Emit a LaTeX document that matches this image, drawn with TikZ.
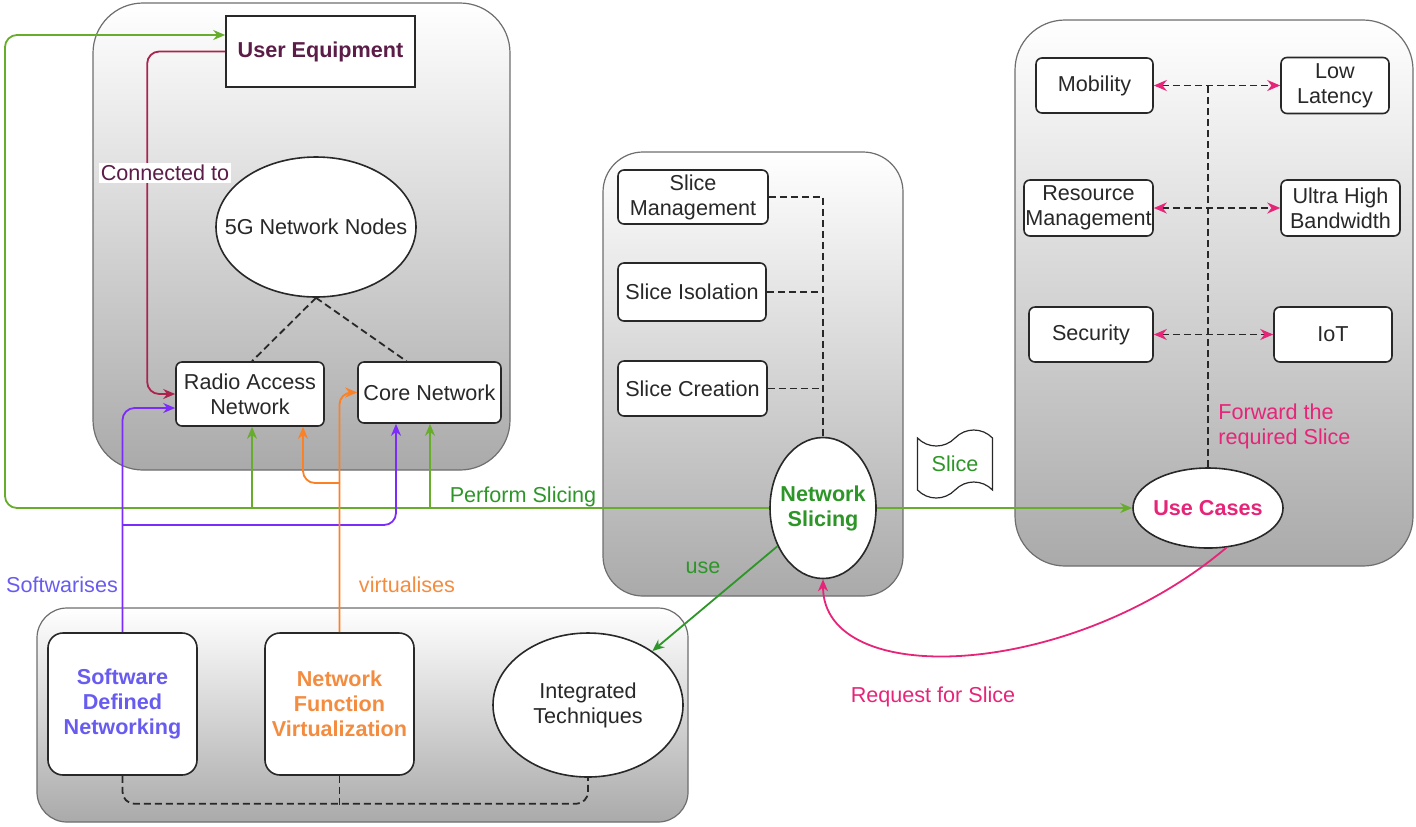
\documentclass[tikz,border=0pt]{standalone}
\usepackage{fontspec}
\setmainfont{Liberation Sans}
\definecolor{uemaroon}{RGB}{92,28,72}
\definecolor{connred}{RGB}{170,36,78}
\definecolor{slicegreen}{RGB}{104,172,44}
\definecolor{labelgreen}{RGB}{46,150,40}
\definecolor{sdnviolet}{RGB}{124,44,250}
\definecolor{sdntext}{RGB}{104,92,240}
\definecolor{nfvorange}{RGB}{252,128,36}
\definecolor{nfvtext}{RGB}{244,140,64}
\definecolor{casepink}{RGB}{230,36,120}
\definecolor{panelgray}{RGB}{170,170,170}
\definecolor{edgegray}{RGB}{110,110,110}
\definecolor{inkgray}{RGB}{40,40,40}
\usetikzlibrary{shapes.geometric, shapes.symbols, arrows.meta, positioning, calc}

\begin{document}
\begin{tikzpicture}[x=0.5pt, y=-0.5pt,
  font=\fontsize{10.8}{12.5}\selectfont,
  panel/.style={draw=edgegray, line width=0.6pt, top color=white, bottom color=panelgray, rounded corners=#1},
  box/.style={draw=inkgray, fill=white, line width=0.8pt, rounded corners=3pt, align=center, inner sep=0pt, text=inkgray},
  oval/.style={draw=inkgray, fill=white, line width=0.8pt, ellipse, inner sep=0pt},
  link/.style={line width=0.9pt, rounded corners=6pt, -{Stealth[length=6pt, width=5pt]}},
  dashlink/.style={draw=inkgray, line width=0.9pt, dash pattern=on 3.5pt off 2pt},
  pinktips/.style={{Stealth[length=6.5pt, width=5.5pt, casepink]}-{Stealth[length=6.5pt, width=5.5pt, casepink]}}
]
  \useasboundingbox (0,0) rectangle (1416,826);

  % panels
  \node[panel=25pt, minimum width=208.5pt, minimum height=233.5pt] (nodepanel) at (301.5,236.5) {};
  \node[panel=20pt, minimum width=150pt, minimum height=222pt] (slicepanel) at (753,374) {};
  \node[panel=25pt, minimum width=199pt, minimum height=273pt] (casepanel) at (1214,293) {};
  \node[panel=15pt, minimum width=325.5pt, minimum height=107pt] (techpanel) at (362.5,715) {};

  % 5G network nodes
  \node[box, rounded corners=0pt, minimum width=94.5pt, minimum height=35.5pt, text=uemaroon, font=\fontsize{10.8}{12.5}\selectfont\bfseries] (ue) at (320.5,51.5) {User Equipment};
  \node[oval, minimum width=100pt, minimum height=70pt] (g5) at (316,227) {};
  \node[text=inkgray] (g5text) at (g5) {5G Network Nodes};
  \node[box, minimum width=74pt, minimum height=32pt] (ran) at (250,394) {Radio Access\\Network};
  \node[box, minimum width=71.5pt, minimum height=30.5pt] (cn) at (429.5,392.5) {Core Network};

  % slicing
  \node[box, minimum width=75pt, minimum height=27pt] (sm) at (693,197) {Slice\\Management};
  \node[box, minimum width=74pt, minimum height=29pt] (si) at (692,292) {Slice Isolation};
  \node[box, minimum width=74.5pt, minimum height=27.5pt] (sc) at (692.5,388.5) {Slice Creation};
  \node[oval, minimum width=53pt, minimum height=70.5pt] (ns) at (823,508) {};
  \node[text=labelgreen, align=center, font=\fontsize{10.8}{12.5}\selectfont\bfseries] (nstext) at (ns) {Network\\Slicing};
  \node[tape, tape bend height=8pt, draw=inkgray, fill=white, line width=0.6pt, minimum width=37.5pt, minimum height=34pt, inner sep=0pt, text=labelgreen] (slicetag) at (955,464) {Slice};

  % use cases
  \node[box, minimum width=58.5pt, minimum height=27.5pt] (mob) at (1094.5,85.5) {Mobility};
  \node[box, minimum width=54pt, minimum height=28pt] (ll) at (1335,85.5) {Low\\Latency};
  \node[box, minimum width=64.5pt, minimum height=28pt] (rm) at (1088.5,208) {Resource\\Management};
  \node[box, minimum width=59.5pt, minimum height=28pt] (uhb) at (1340.5,208) {Ultra High\\Bandwidth};
  \node[box, minimum width=62pt, minimum height=27.5pt] (sec) at (1091,334.5) {Security};
  \node[box, minimum width=59pt, minimum height=27.5pt] (iot) at (1333,334.5) {IoT};
  \node[oval, minimum width=75pt, minimum height=40pt] (uc) at (1208,508) {};
  \node[text=casepink, font=\fontsize{10.8}{12.5}\selectfont\bfseries] (uctext) at (uc) {Use Cases};

  % techniques
  \node[box, rounded corners=7.5pt, minimum width=74.5pt, minimum height=71pt, text=sdntext, font=\fontsize{10.8}{12.5}\selectfont\bfseries] (sdn) at (122.5,704) {Software\\Defined\\Networking};
  \node[box, rounded corners=7.5pt, minimum width=74.5pt, minimum height=71pt, text=nfvtext, font=\fontsize{10.8}{12.5}\selectfont\bfseries] (nfv) at (339.5,704) {Network\\Function\\Virtualization};
  \node[oval, minimum width=95pt, minimum height=72pt] (it) at (588,705) {};
  \node[text=inkgray, align=center] (ittext) at (it) {Integrated\\Techniques};

  % dashed links
  \draw[dashlink] (g5.south) -- ($(ran.north)+(2,0)$);
  \draw[dashlink] (g5.south) -- ($(cn.north)+(-23,0)$);
  \draw[dashlink] (sm.east) -| (ns.north);
  \draw[dashlink] (si.east) -- (si.east -| ns.north);
  \draw[dashlink] (sc.east) -- (sc.east -| ns.north);
  \draw[dashlink] (uc.north) -- (uc.north |- mob.east);
  \draw[dashlink, pinktips] (mob.east) -- (ll.west);
  \draw[dashlink, pinktips] (rm.east) -- (uhb.west);
  \draw[dashlink, pinktips] (sec.east) -- (iot.west);
  \draw[dashlink, rounded corners=6pt] (sdn.south) -- ++(0,28) -| (it.south);
  \draw[dashlink] (nfv.south) -- ++(0,32);

  % green slicing links
  \coordinate (gcorner) at (5,508);
  \coordinate (granbr) at (252,508);
  \coordinate (gcnbr) at (430,508);
  \draw[link, slicegreen] (ns.west) -- (gcorner) |- ($(ue.west)+(0,-16.5)$);
  \draw[link, slicegreen] (ns.east) -- (uc.west);
  \draw[link, slicegreen] (granbr) -- (granbr |- ran.south);
  \draw[link, slicegreen] (gcnbr) -- (gcnbr |- cn.south);
  \draw[link, labelgreen] (ns) -- (it);

  % sdn and nfv links
  \coordinate (sdnbr) at (122.5,525);
  \coordinate (nfvbr) at (339.5,483);
  \draw[link, sdnviolet] (sdn.north) |- ($(ran.west)+(0,14)$);
  \draw[link, sdnviolet] (sdnbr) -| ($(cn.south)+(-33.5,0)$);
  \draw[link, nfvorange] (nfv.north) |- (cn.west);
  \draw[link, nfvorange] (nfvbr) -| ($(ran.south)+(53,0)$);

  % user equipment link
  \draw[link, connred] (ue.west) -| ($(ran.west)+(-28,0)$) -- (ran.west);

  % request curve
  \draw[casepink, line width=0.9pt, -{Stealth[length=6pt, width=5pt]}] (uc.-65) .. controls (1070,680) and (823,690) .. (ns.south);

  % labels
  \node[fill=white, text=uemaroon, inner sep=1pt] (conlabel) at (165,173) {Connected to};
  \node[text=labelgreen] (perflabel) at (523,497) {Perform Slicing};
  \node[text=sdntext] (swlabel) at (62,585) {Softwarises};
  \node[text=nfvtext] (vlabel) at (407,585) {virtualises};
  \node[text=labelgreen] (uselabel) at (703,568) {use};
  \node[text=casepink, anchor=north west, align=left, inner sep=0pt] (fwdlabel) at (1218,403) {Forward the\\required Slice};
  \node[text=casepink] (reqlabel) at (933,697) {Request for Slice};
\end{tikzpicture}
\end{document}
